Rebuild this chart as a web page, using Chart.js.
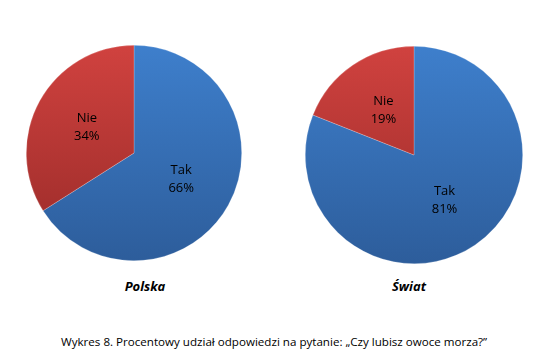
<!DOCTYPE html>
<html>
<head>
<meta charset="utf-8">
<script src="https://cdn.jsdelivr.net/npm/chart.js@4"></script>
<style>
  html, body { margin:0; padding:0; background:#fff; }
  body { width:547px; height:360px; position:relative; overflow:hidden; font-family:"Open Sans","Noto Sans",sans-serif; }
  .wrap { position:absolute; }
  .ttl { position:absolute; font-weight:bold; font-style:italic; font-size:13px; color:#000; transform:translateX(-50%); white-space:nowrap; }
  .cap { position:absolute; left:61px; top:334px; font-size:11.6px; color:#000; white-space:nowrap; }
</style>
</head>
<body>
<div class="wrap" style="left:26px;top:45px;width:216px;height:216px;"><canvas id="c1"></canvas></div>
<div class="wrap" style="left:305px;top:46px;width:218px;height:218px;"><canvas id="c2"></canvas></div>
<div class="ttl" style="left:145px;top:277px;">Polska</div>
<div class="ttl" style="left:409px;top:277px;">Świat</div>
<div class="cap">Wykres 8. Procentowy udział odpowiedzi na pytanie: „Czy lubisz owoce morza?”</div>
<script>
const categories = ["Tak", "Nie"];
const polskaValues = [66, 34];
const swiatValues = [81, 19];
const chartTitles = ["Polska", "Świat"];

function grad(ctx, area, top, bottom) {
  const g = ctx.createLinearGradient(0, area.top, 0, area.bottom);
  g.addColorStop(0, top);
  g.addColorStop(1, bottom);
  return g;
}

const labelPlugin = {
  id: 'sliceLabels',
  afterDatasetsDraw(chart) {
    const ctx = chart.ctx;
    const meta = chart.getDatasetMeta(0);
    const data = chart.data.datasets[0].data;
    ctx.save();
    ctx.fillStyle = '#000';
    ctx.font = '13px "Open Sans", "Noto Sans", sans-serif';
    ctx.textAlign = 'center';
    ctx.textBaseline = 'middle';
    meta.data.forEach((arc, i) => {
      const p = arc.tooltipPosition();
      ctx.fillText(chart.data.labels[i], p.x, p.y - 9);
      ctx.fillText(data[i] + '%', p.x, p.y + 9);
    });
    ctx.restore();
  }
};

function makePie(id, values) {
  new Chart(document.getElementById(id), {
    type: 'pie',
    data: {
      labels: categories,
      datasets: [{
        data: values,
        backgroundColor: (c) => {
          const area = c.chart.chartArea;
          if (!area) return c.dataIndex === 0 ? '#3a74bd' : '#bb3a37';
          return c.dataIndex === 0
            ? grad(c.chart.ctx, area, '#3e7fcc', '#2d5d9b')
            : grad(c.chart.ctx, area, '#d0423f', '#982a28');
        },
        borderColor: 'rgba(255,255,255,0.35)',
        borderWidth: 0.6
      }]
    },
    options: {
      responsive: true,
      maintainAspectRatio: false,
      animation: false,
      layout: { padding: 0 },
      plugins: { legend: { display: false }, tooltip: { enabled: false } }
    },
    plugins: [labelPlugin]
  });
}

makePie('c1', polskaValues);
makePie('c2', swiatValues);
</script>
</body>
</html>
